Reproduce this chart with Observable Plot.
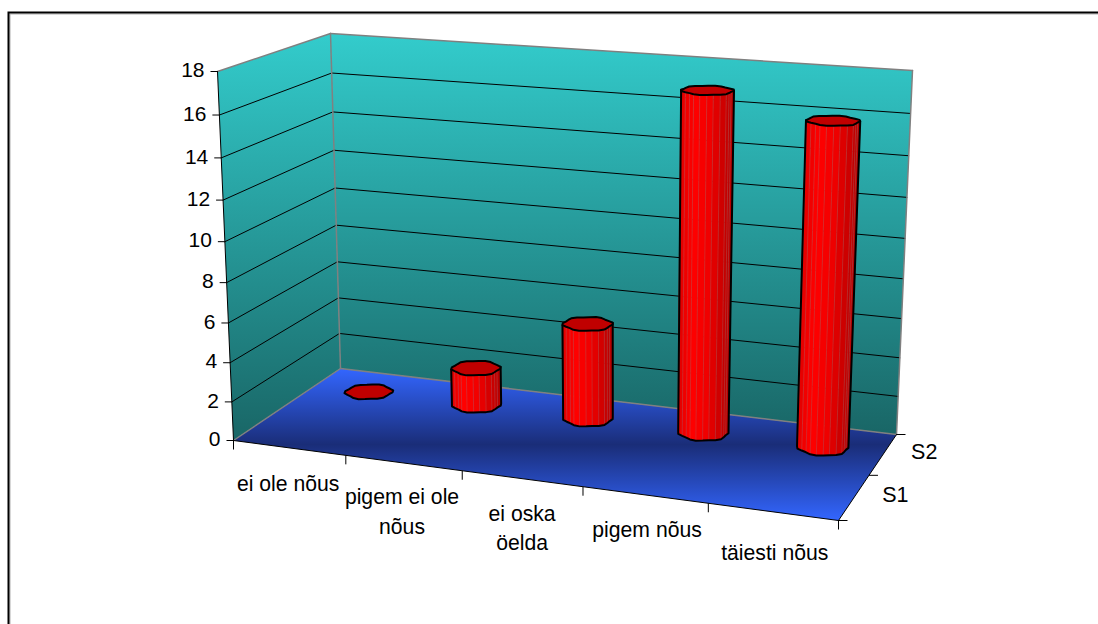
<!DOCTYPE html>
<html><head><meta charset="utf-8">
<style>html,body{margin:0;padding:0;background:#fff;overflow:hidden}svg{display:block}</style>
<script src="https://cdn.jsdelivr.net/npm/d3@7"></script>
<script src="https://cdn.jsdelivr.net/npm/@observablehq/plot@0.6"></script>
</head><body><div id="chart"></div>
<script>
const categories = ["ei ole nõus", "pigem ei ole\nnõus", "ei oska\nöelda", "pigem nõus", "täiesti nõus"];
const seriesNames = ["S1", "S2"];
const s2Values = [0, 2, 5, 17, 16];
const valueTicks = [0, 2, 4, 6, 8, 10, 12, 14, 16, 18];
const valueMax = 18;

// Perspective of the chart box: screen position of its eight corners
const floorCorners = [[233,440],[838,520],[896,434],[340,368]]; // front-left, front-right, back-right, back-left
const topCorners   = [[217,71],[853,117],[912,70],[330,33]];
// small per-label nudges of the category labels
const catNudgeX = [-1,-1.5,0,2,2];
const catNudgeY = [-4,-6,-5,-5,1];

function homography([p0,p1,p2,p3]) {
  const dx1=p1[0]-p2[0], dx2=p3[0]-p2[0], sx=p0[0]-p1[0]+p2[0]-p3[0];
  const dy1=p1[1]-p2[1], dy2=p3[1]-p2[1], sy=p0[1]-p1[1]+p2[1]-p3[1];
  const den=dx1*dy2-dx2*dy1;
  const g=(sx*dy2-dx2*sy)/den, h=(dx1*sy-sx*dy1)/den;
  const a=p1[0]-p0[0]+g*p1[0], b=p3[0]-p0[0]+h*p3[0], c=p0[0];
  const d=p1[1]-p0[1]+g*p1[1], e=p3[1]-p0[1]+h*p3[1], f=p0[1];
  return (u,v)=>{const q=g*u+h*v+1;return [(a*u+b*v+c)/q,(d*u+e*v+f)/q];};
}
const floorH = homography(floorCorners), topH = homography(topCorners);
// category position u, depth position v, value -> screen point
function project(u, v, val) {
  const w = val/valueMax, t = w/(w+(1-w)*1.07);
  const a = floorH(u,v), b = topH(u,v);
  return {x:a[0]+(b[0]-a[0])*t, y:a[1]+(b[1]-a[1])*t};
}
const P = (u,v,val)=>project(u,v,val);
const catU = i => (i+0.5)/categories.length;
const serV = i => (i+0.5)/seriesNames.length;

const face = (pts, fill, extra={}) => Plot.line(pts,{x:"x",y:"y",fill,stroke:"none",curve:"linear-closed",...extra});
const seg = (a,b,stroke,strokeWidth,extra={}) => Plot.line([a,b],{x:"x",y:"y",stroke,strokeWidth,...extra});

const gridMarks = valueTicks.slice(1,-1).flatMap(t=>[
  seg(P(0,0,t),P(0,1,t),"#000",1),
  seg(P(0,1,t),P(1,1,t),"#000",1)
]);

const catEdges = d3.range(categories.length+1).map(i=>i/categories.length);
const tk = [];
for (const u of catEdges){const p=P(u,0,0);tk.push({x:p.x,y:p.y,x2:p.x,y2:p.y+9});}
for (const i of [0,1,2]){const p=P(1,i/2,0);tk.push({x:p.x,y:p.y,x2:p.x+9,y2:p.y});}
for (const t of valueTicks){const p=P(0,0,t);tk.push({x:p.x,y:p.y,x2:p.x-7,y2:p.y});}

// Cylinder footprint
const N = 24, ru = 0.04, rv = 0.1;
const ang = d3.range(N).map(i=>i/N*2*Math.PI);
const rad = th => 1+0.055*Math.cos(6*th+0.5+Math.PI);
const shade = d3.scaleLinear().domain([0,0.25,0.55,1]).range(["#e00000","#ff0000","#f00000","#b40000"]);

function cylinder(i, val) {
  const uc=catU(i)+0.0015, vc=serV(1);
  const ring = h => ang.map(th=>P(uc+ru*rad(th)*Math.cos(th), vc+rv*rad(th)*Math.sin(th), h));
  const bot=ring(0), top=ring(val);
  const marks=[];
  if (val>0){
    const iL=d3.minIndex(bot,d=>d.x), iR=d3.maxIndex(bot,d=>d.x);
    const dir = bot[(iL+1)%N].y>=bot[(iL-1+N)%N].y ? 1 : -1;
    const idx=[]; for(let k=iL;;k=(k+dir+N)%N){idx.push(k); if(k===iR)break;}
    const x0=bot[iL].x,x1=bot[iR].x;
    for(let k=0;k<idx.length-1;k++){
      const a=idx[k],b=idx[k+1];
      const c=shade(((bot[a].x+bot[b].x)/2-x0)/(x1-x0));
      marks.push(face([bot[a],bot[b],top[b],top[a]],c,{stroke:c,strokeWidth:0.5}));
      if(k>0) marks.push(seg(bot[a],top[a],"#c06060",0.6,{strokeOpacity:0.6}));
    }
    const outline=[top[iL],...idx.map(k=>bot[k]),top[iR]];
    marks.push(Plot.line(outline,{x:"x",y:"y",stroke:"#000",strokeWidth:2}));
  }
  marks.push(face(top,"#c00000",{stroke:"#000",strokeWidth:2}));
  return marks;
}

const catLabels = categories.map((c,i)=>{const p=P(catU(i),0,0);return {label:c,x:p.x+catNudgeX[i],y:p.y+catNudgeY[i]};});
const valLabels = valueTicks.map(t=>({label:String(t),...P(0,0,t)}));
const serLabels = seriesNames.map((s,i)=>({label:s,...P(1,serV(i),0)}));
const fam="'Liberation Sans',Arial,sans-serif";

const plot = Plot.plot({
  width:1098,height:624,margin:0,
  x:{domain:[0,1098],range:[0,1098],axis:null},
  y:{domain:[0,624],range:[0,624],axis:null},
  style:{background:"#fff"},
  marks:[
    Plot.frame({stroke:"#b0b0b0",strokeWidth:1,insetLeft:9.5,insetTop:13.5,insetRight:-10,insetBottom:-10}),
    Plot.frame({stroke:"#000",strokeWidth:2,insetLeft:8,insetTop:12,insetRight:-10,insetBottom:-10}),
    face([P(0,0,0),P(0,1,0),P(0,1,valueMax),P(0,0,valueMax)],"url(#wall)"),
    face([P(0,1,0),P(1,1,0),P(1,1,valueMax),P(0,1,valueMax)],"url(#wall2)"),
    face([P(0,0,0),P(1,0,0),P(1,1,0),P(0,1,0)],"url(#floor)"),
    ...gridMarks,
    seg(P(0,0,valueMax),P(0,1,valueMax),"#808080",1.5),
    seg(P(0,1,valueMax),P(1,1,valueMax),"#808080",1.5),
    seg(P(1,1,valueMax),P(1,1,0),"#808080",1.5),
    seg(P(0,1,valueMax),P(0,1,0),"#808080",1.5),
    seg(P(0,1,0),P(1,1,0),"#808080",1.5),
    seg(P(0,1,0),P(0,0,0),"#808080",1.5),
    seg(P(0,0,0),P(0,0,valueMax),"#000",1),
    seg(P(0,0,0),P(1,0,0),"#000",1),
    seg(P(1,0,0),P(1,1,0),"#000",1),
    Plot.link(tk,{x1:"x",y1:"y",x2:"x2",y2:"y2",stroke:"#000",strokeWidth:1}),
    ...s2Values.flatMap((v,i)=>cylinder(i,v)),
    Plot.text(valLabels,{x:"x",y:"y",text:"label",textAnchor:"end",dx:-13,dy:-1,fontFamily:fam,fontSize:21,fill:"#000"}),
    Plot.text(catLabels,{x:"x",y:"y",text:"label",textAnchor:"middle",lineAnchor:"top",dy:26,lineHeight:1.4,fontFamily:fam,fontSize:21.2,fill:"#000"}),
    Plot.text(serLabels,{x:"x",y:"y",text:"label",textAnchor:"start",dx:28,dy:-2,fontFamily:fam,fontSize:21.5,fill:"#000"})
  ]
});
plot.insertAdjacentHTML("afterbegin",`<defs>
<linearGradient id="wall" x1="0" y1="0" x2="0" y2="1"><stop offset="0" stop-color="#33cccc"/><stop offset="1" stop-color="#196666"/></linearGradient>
<linearGradient id="wall2" x1="0" y1="0" x2="0" y2="1"><stop offset="0" stop-color="#33cccc"/><stop offset="1" stop-color="#196666"/></linearGradient>
<linearGradient id="floor" x1="0" y1="0" x2="0" y2="1"><stop offset="0" stop-color="#3366ff"/><stop offset="0.5" stop-color="#1a2d78"/><stop offset="1" stop-color="#3366ff"/></linearGradient>
</defs>`);
document.getElementById("chart").append(plot);
</script></body></html>
